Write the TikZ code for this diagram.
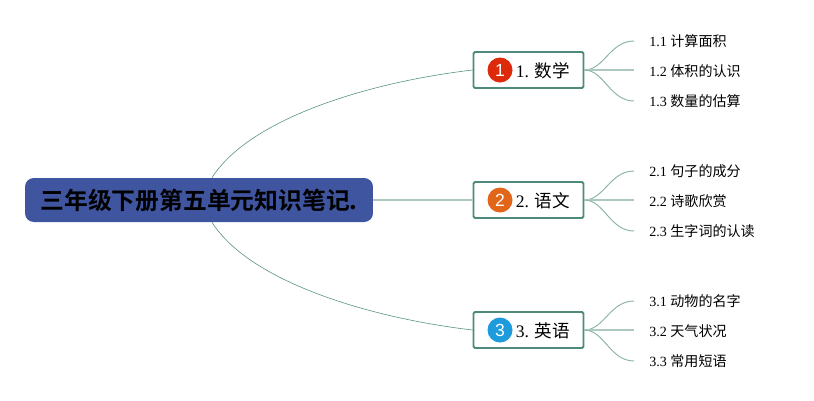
\documentclass[tikz,border=0pt]{standalone}
\usepackage{xcolor}
\usepackage{fontspec}
\setmainfont{Liberation Serif}
\setsansfont{Liberation Sans}
\newfontfamily\cjk{Noto Sans CJK SC}
\newfontfamily\cjkbold{Noto Sans CJK SC Bold}
\usetikzlibrary{shapes}
\usetikzlibrary{arrows}
\definecolor{rootblue}{HTML}{3F55A0}
\definecolor{linegreen}{HTML}{5B9484}
\definecolor{boxgreen}{HTML}{4E8A7B}
\definecolor{badgered}{HTML}{DD2A0B}
\definecolor{badgeorange}{HTML}{E2661A}
\definecolor{badgeblue}{HTML}{1E9BDC}
\tikzset{
	root node/.style={rectangle,rounded corners=5pt,fill=rootblue,minimum width=6.96cm,minimum height=0.88cm,inner sep=0pt,font=\fontsize{13.55}{15}\selectfont},
	topic node/.style={rectangle,draw=boxgreen,line width=1.1pt,rounded corners=0.8pt,fill=white,minimum width=2.2cm,minimum height=0.72cm,inner sep=0pt},
	topic text/.style={anchor=west,inner sep=0pt,font=\fontsize{10}{12}\selectfont},
	badge/.style={circle,minimum size=0.5cm,inner sep=0pt,text=white,font=\sffamily\fontsize{10}{12}\selectfont},
	leaf node/.style={anchor=west,inner ysep=1pt,inner xsep=0.3cm,font=\fontsize{8}{10}\selectfont},
	link/.style={draw=linegreen,line width=0.35pt},
	sublink/.style={draw=linegreen!70,line width=0.55pt},
	midlink/.style={draw=linegreen!50,line width=0.9pt}
}

\begin{document}
\begin{tikzpicture}[x=0.02cm,y=-0.02cm]
	\useasboundingbox (0,0) rectangle (814,400);
	% centre
	\node [root node] (root) at (199,200) {{\cjkbold 三年级下册第五单元知识笔记.}};
	% topics
	\node [topic node] (b1) at (528.5,70) {};
	\node [topic node] (b2) at (528.5,200) {};
	\node [topic node] (b3) at (528.5,330) {};
	\node [badge,fill=badgered] (i1) at (500,70) {1};
	\node [badge,fill=badgeorange] (i2) at (500,200) {2};
	\node [badge,fill=badgeblue] (i3) at (500,330) {3};
	\node [topic text] (t1) at (515.5,71) {1. {\cjk 数学}};
	\node [topic text] (t2) at (515.5,201) {2. {\cjk 语文}};
	\node [topic text] (t3) at (515.5,331) {3. {\cjk 英语}};
	% leaves
	\node [leaf node] (l11) at (634,41) {1.1 {\cjk 计算面积}};
	\node [leaf node] (l12) at (634,71) {1.2 {\cjk 体积的认识}};
	\node [leaf node] (l13) at (634,101) {1.3 {\cjk 数量的估算}};
	\node [leaf node] (l21) at (634,171) {2.1 {\cjk 句子的成分}};
	\node [leaf node] (l22) at (634,201) {2.2 {\cjk 诗歌欣赏}};
	\node [leaf node] (l23) at (634,231) {2.3 {\cjk 生字词的认读}};
	\node [leaf node] (l31) at (634,301) {3.1 {\cjk 动物的名字}};
	\node [leaf node] (l32) at (634,331) {3.2 {\cjk 天气状况}};
	\node [leaf node] (l33) at (634,361) {3.3 {\cjk 常用短语}};
	% links
	\draw [link] ([xshift=0.26cm]root.north) .. controls (250,118) and (370,82) .. (b1.west);
	\draw [midlink] (root.east) -- (b2.west);
	\draw [link] ([xshift=0.26cm]root.south) .. controls (250,282) and (370,318) .. (b3.west);
	\draw [sublink] (b1.east) .. controls (604,70) and (610,41) .. (l11.west);
	\draw [midlink] (b1.east) -- (b1.east -| l12.west);
	\draw [sublink] (b1.east) .. controls (604,70) and (610,101) .. (l13.west);
	\draw [sublink] (b2.east) .. controls (604,200) and (610,171) .. (l21.west);
	\draw [midlink] (b2.east) -- (b2.east -| l22.west);
	\draw [sublink] (b2.east) .. controls (604,200) and (610,231) .. (l23.west);
	\draw [sublink] (b3.east) .. controls (604,330) and (610,301) .. (l31.west);
	\draw [midlink] (b3.east) -- (b3.east -| l32.west);
	\draw [sublink] (b3.east) .. controls (604,330) and (610,361) .. (l33.west);
\end{tikzpicture}
\end{document}
